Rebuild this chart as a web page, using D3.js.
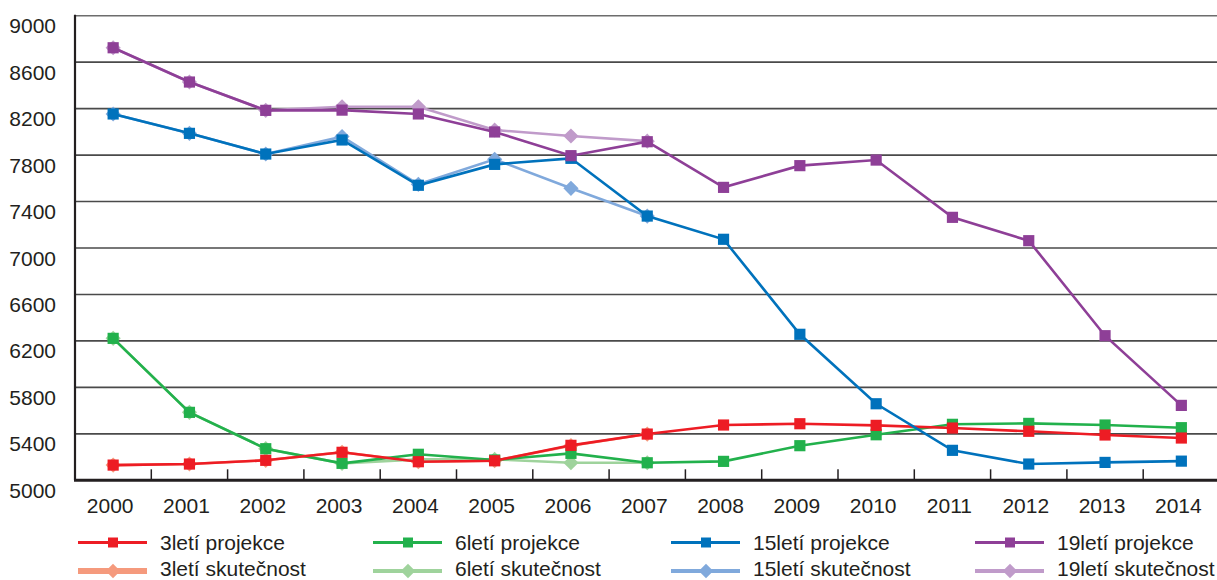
<!DOCTYPE html>
<html>
  <head>
    <meta charset="utf-8">
    <script src="https://d3js.org/d3.v7.min.js"></script>
    <style>
      body { margin: 0; background: #fff; }
      text { font-family: "Liberation Sans", Arial, sans-serif; fill: #231f20; }
    </style>
  </head>
  <body>
    <script type="text/javascript">
      // roky na ose x
      var years = ["2000", "2001", "2002", "2003", "2004", "2005", "2006", "2007",
                   "2008", "2009", "2010", "2011", "2012", "2013", "2014"];
      var yTicks = [5000, 5400, 5800, 6200, 6600, 7000, 7400, 7800, 8200, 8600, 9000];

      // projekce (cela rada) a skutecnost (2000-2007)
      var proj3 = [5131, 5140, 5172, 5241, 5160, 5168, 5301, 5398, 5476, 5487, 5473, 5450, 5422, 5390, 5364];
      var skut3 = [5131, 5140, 5172, 5241, 5160, 5168, 5298, 5398];
      var proj6 = [6222, 5585, 5272, 5146, 5224, 5175, 5232, 5151, 5163, 5298, 5392, 5482, 5490, 5476, 5453];
      var skut6 = [6222, 5585, 5272, 5146, 5180, 5180, 5151, 5151];
      var proj15 = [8154, 7987, 7809, 7930, 7540, 7720, 7772, 7275, 7075, 6257, 5659, 5258, 5140, 5154, 5165];
      var skut15 = [8154, 7987, 7809, 7959, 7548, 7764, 7514, 7275];
      var proj19 = [8724, 8429, 8185, 8187, 8154, 7999, 7795, 7915, 7522, 7709, 7757, 7264, 7063, 6245, 5645];
      var skut19 = [8724, 8429, 8185, 8216, 8216, 8016, 7964, 7920];

      var names = ["3letí projekce", "6letí projekce", "15letí projekce", "19letí projekce",
                   "3letí skutečnost", "6letí skutečnost", "15letí skutečnost", "19letí skutečnost"];

      var series = [
        { name: names[4], values: skut3, color: "#f59a7d", shape: "diamond", legW: 6 },
        { name: names[5], values: skut6, color: "#9fd39c", shape: "diamond", legW: 4 },
        { name: names[6], values: skut15, color: "#80a9dc", shape: "diamond", legW: 4 },
        { name: names[7], values: skut19, color: "#c09bca", shape: "diamond", legW: 4 },
        { name: names[1], values: proj6, color: "#22b14c", shape: "square", legW: 3 },
        { name: names[0], values: proj3, color: "#ed1c24", shape: "square", legW: 3 },
        { name: names[2], values: proj15, color: "#0072bc", shape: "square", legW: 3 },
        { name: names[3], values: proj19, color: "#8e3f97", shape: "square", legW: 3 }
      ];

      var W = 1217, H = 580;
      var svg = d3.select("body").append("svg").attr("width", W).attr("height", H);

      var x = d3.scaleBand().domain(years).range([75, 75 + 15 * 76.3]);
      var y = d3.scaleLinear().domain([5000, 9000]).range([480.3, 15.7]);

      // mrizka
      svg.append("g")
        .selectAll("line")
        .data(yTicks.slice(1))
        .enter()
        .append("line")
          .attr("x1", 75).attr("x2", W)
          .attr("y1", function (d) { return y(d); })
          .attr("y2", function (d) { return y(d); })
          .attr("stroke", function (d) { return d === 9000 ? "#6d6d6d" : "#4a4a4a"; })
          .attr("stroke-width", 1.6);

      // osa y - popisky
      var yAxis = svg.append("g")
        .attr("transform", "translate(75,0)")
        .call(d3.axisLeft(y).tickValues(yTicks).tickSize(0).tickPadding(19).tickFormat(d3.format("d")));
      yAxis.select(".domain").remove();
      yAxis.selectAll("text")
        .attr("dy", "0")
        .attr("y", 17)
        .style("font-size", "21px")
        .style("font-family", "'Liberation Sans', Arial, sans-serif")
        .attr("fill", "#231f20");
      svg.append("line")
        .attr("x1", 75).attr("x2", 75)
        .attr("y1", y(9000) - 1).attr("y2", y(5000))
        .attr("stroke", "#231f20").attr("stroke-width", 2.2);

      // osa x
      var xAxis = svg.append("g")
        .attr("transform", "translate(0," + y(5000) + ")")
        .call(d3.axisBottom(x).tickSize(0).tickPadding(0));
      xAxis.select(".domain").remove();
      xAxis.selectAll("text")
        .attr("dy", "0")
        .attr("y", 33)
        .attr("dx", "-3")
        .style("font-size", "21px")
        .style("font-family", "'Liberation Sans', Arial, sans-serif")
        .attr("fill", "#231f20");
      // zarazky mezi kategoriemi (dovnitr)
      svg.append("g")
        .selectAll("line")
        .data(years.slice(1))
        .enter()
        .append("line")
          .attr("x1", function (d) { return x(d); })
          .attr("x2", function (d) { return x(d); })
          .attr("y1", y(5000)).attr("y2", y(5000) - 11)
          .attr("stroke", "#231f20").attr("stroke-width", 1.5);
      svg.append("line")
        .attr("x1", 74).attr("x2", W)
        .attr("y1", y(5000)).attr("y2", y(5000))
        .attr("stroke", "#231f20").attr("stroke-width", 3);

      var line = d3.line()
        .x(function (d, i) { return x(years[i]) + x.bandwidth() / 2; })
        .y(function (d) { return y(d); });

      // ctverec, u skutecnosti natoceny o 45 stupnu (kosoctverec)
      function marker(sel, shape, size) {
        sel.attr("d", d3.symbol().type(d3.symbolSquare).size(size)());
        if (shape === "diamond") sel.attr("transform", function () {
          return d3.select(this).attr("transform") + " rotate(45)";
        });
      }

      series.forEach(function (s) {
        var g = svg.append("g");
        g.append("path")
          .datum(s.values)
          .attr("d", line)
          .attr("fill", "none")
          .attr("stroke", s.color)
          .attr("stroke-width", 2.6);
        g.selectAll("path.m")
          .data(s.values)
          .enter()
          .append("path")
            .attr("class", "m")
            .attr("transform", function (d, i) {
              return "translate(" + (x(years[i]) + x.bandwidth() / 2) + "," + y(d) + ")";
            })
            .attr("fill", s.color)
            .call(marker, s.shape, s.shape === "square" ? 125 : 115);
      });

      // legenda
      var legX = [78, 373, 671, 975];
      var legY = [542.5, 571];
      var legendOrder = [5, 4, 6, 7, 0, 1, 2, 3];
      var leg = svg.append("g")
        .selectAll("g")
        .data(legendOrder)
        .enter()
        .append("g")
          .attr("transform", function (d, i) {
            return "translate(" + legX[i % 4] + "," + legY[Math.floor(i / 4)] + ")";
          });
      leg.append("line")
        .attr("x1", 0).attr("x2", 69)
        .attr("stroke", function (d) { return series[d].color; })
        .attr("stroke-width", function (d) { return series[d].legW; });
      leg.each(function (d) {
        d3.select(this).append("path")
          .attr("transform", "translate(35,0)")
          .attr("fill", series[d].color)
          .call(marker, series[d].shape, series[d].shape === "square" ? 100 : 105);
      });
      leg.append("text")
        .attr("x", 82)
        .attr("y", function (d, i) { return i < 4 ? 7.5 : 4.5; })
        .style("font-size", "21px")
        .text(function (d) { return series[d].name; });
    </script>
  </body>
</html>
